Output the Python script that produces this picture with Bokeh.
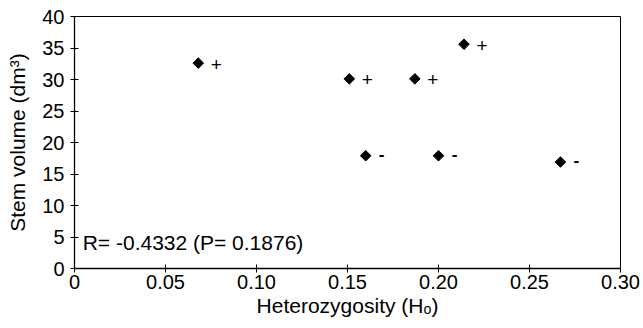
import numpy as np
from bokeh.plotting import figure
from bokeh.models import Range1d, FixedTicker, ColumnDataSource
from bokeh.core.properties import value
from bokeh.embed import file_html
from bokeh.resources import INLINE

# data
heterozygosity = [0.068, 0.151, 0.187, 0.214, 0.160, 0.200, 0.267]
stem_volume = [32.6, 30.1, 30.1, 35.6, 17.9, 17.9, 16.9]
signs = ["+", "+", "+", "+", "-", "-", "-"]
x_ticks = [0, 0.05, 0.10, 0.15, 0.20, 0.25, 0.30]
x_tick_labels = ["0", "0.05", "0.10", "0.15", "0.20", "0.25", "0.30"]
y_ticks = [0, 5, 10, 15, 20, 25, 30, 35, 40]
annotation = "R= -0.4332 (P= 0.1876)"

FONT = "Liberation Sans"

p = figure(width=643, height=328, output_backend="svg", toolbar_location=None,
           x_range=Range1d(0, 0.30), y_range=Range1d(0, 40),
           min_border_left=74, min_border_right=23, min_border_top=16,
           min_border_bottom=60)
p.grid.visible = False
p.outline_line_color = "black"
p.outline_line_width = 1
p.background_fill_color = "white"
p.border_fill_color = "white"

for ax in (p.xaxis[0], p.yaxis[0]):
    ax.axis_line_color = "black"
    ax.axis_line_width = 1.3
    ax.major_tick_line_color = "black"
    ax.minor_tick_line_color = None
    ax.major_tick_in = 4
    ax.major_tick_out = 4
    ax.major_label_text_font = FONT
    ax.major_label_text_font_size = "20px"
    ax.major_label_text_color = "black"
    ax.axis_label_text_font = FONT
    ax.axis_label_text_font_size = "21px"
    ax.axis_label_text_font_style = "normal"
    ax.axis_label_text_color = "black"

p.xaxis.ticker = FixedTicker(ticks=x_ticks)
p.xaxis.major_label_overrides = {t: l for t, l in zip(x_ticks, x_tick_labels)}
p.yaxis.ticker = FixedTicker(ticks=y_ticks)
p.xaxis.axis_label = "Heterozygosity (H\u2092)"
p.yaxis.axis_label = "Stem volume (dm\u00b3)"
p.xaxis.major_label_standoff = 2
p.xaxis.axis_label_standoff = 2
p.yaxis.major_label_standoff = 6
p.yaxis.axis_label_standoff = 10

src = ColumnDataSource(dict(x=heterozygosity, y=stem_volume, s=signs))
p.scatter("x", "y", source=src, marker="square", angle=np.pi / 4, size=7.5,
          fill_color="black", line_color="black")

plus = ColumnDataSource(dict(x=[a for a, s in zip(heterozygosity, signs) if s == "+"],
                             y=[b for b, s in zip(stem_volume, signs) if s == "+"],
                             s=[s for s in signs if s == "+"]))
minus = ColumnDataSource(dict(x=[a for a, s in zip(heterozygosity, signs) if s == "-"],
                              y=[b for b, s in zip(stem_volume, signs) if s == "-"],
                              s=[s for s in signs if s == "-"]))
p.text("x", "y", text="s", source=plus, x_offset=18, y_offset=1,
       text_font=value(FONT), text_font_size="19px", text_font_style="normal",
       text_align="center", text_baseline="middle", text_color="black")
p.text("x", "y", text="s", source=minus, x_offset=16, y_offset=-2,
       text_font=value(FONT), text_font_size="17px", text_font_style="bold",
       text_align="center", text_baseline="middle", text_color="black")

p.text(x=[0.0045], y=[4.1], text=[annotation], text_font=value(FONT),
       text_font_size="21px", text_align="left", text_baseline="middle",
       text_color="black")

open("out.html", "w").write(file_html(p, INLINE))
